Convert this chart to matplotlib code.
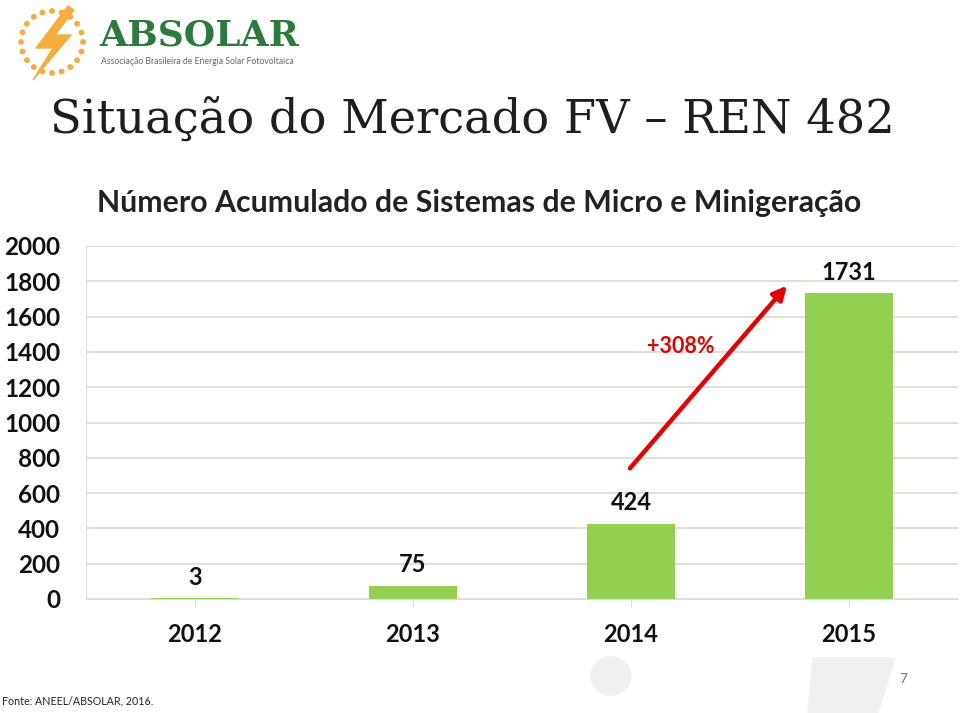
import matplotlib.pyplot as plt
import numpy as np
from matplotlib.patches import Polygon, Ellipse, Circle

# Data
years = ["2012", "2013", "2014", "2015"]
systems = [3, 75, 424, 1731]
growth_label = "+308%"
y_ticks = [0, 200, 400, 600, 800, 1000, 1200, 1400, 1600, 1800, 2000]

W, H = 960, 713
fig = plt.figure(figsize=(W / 100, H / 100), dpi=100)

def fx(px):
    return px / W

def fy(py):
    return 1 - py / H

# Logo
logo = fig.add_axes([0, 0, 1, 1], zorder=0)
logo.set_xlim(0, W)
logo.set_ylim(H, 0)
logo.axis("off")
orange = "#F4AE3D"
for a in np.linspace(0, 2 * np.pi, 20, endpoint=False):
    logo.add_patch(Circle((52 + 31 * np.cos(a), 42 + 31 * np.sin(a)), 2.2, color=orange))
bolt = [(68, 6), (36, 48), (53, 48), (33, 80), (71, 35), (55, 35), (74, 10)]
logo.add_patch(Polygon(bolt, closed=True, color=orange))
logo.text(99, 35, "ABSOLAR", fontsize=26, family="DejaVu Serif", fontweight="bold",
          color="#2C7A3C", va="center", ha="left")
logo.text(101, 62, "Associação Brasileira de Energia Solar Fotovoltaica", fontsize=6.2,
          family="Lato", color="#666666", va="center", ha="left")

# decorative shapes at bottom
logo.add_patch(Ellipse((611, 676), 40, 38, color="#f0f0f0", zorder=0))
logo.add_patch(Polygon([(813, 658), (895, 658), (878, 713), (808, 713)], closed=True,
                       color="#f0f0f0", zorder=0))

# Title
fig.text(fx(50), fy(121), "Situação do Mercado FV – REN 482", fontsize=33.4,
         family="DejaVu Serif", color="#1e1e1e", va="center", ha="left")

# Chart
ax = fig.add_axes([fx(86), fy(599), fx(958) - fx(86), (599 - 246) / H], zorder=1)
ax.patch.set_alpha(0)
x = np.arange(len(years))
ax.bar(x, systems, width=0.4, color="#92D050", zorder=2)
ax.set_xlim(-0.5, 3.5)
ax.set_ylim(0, 2000)
ax.set_yticks(y_ticks)
ax.set_xticks(x)
ax.set_xticklabels(years)
ax.grid(axis="y", color="#dcdcd0", linewidth=1.2, zorder=0)
for s in ["top", "right"]:
    ax.spines[s].set_visible(False)
ax.spines["left"].set_color("#dcdcd0")
ax.spines["bottom"].set_color("#dcdcd0")
ax.tick_params(axis="y", length=0, pad=18.5, labelsize=17.5)
ax.tick_params(axis="x", length=6, color="#dcdcd0", pad=11, labelsize=17)
for lab in ax.get_yticklabels() + ax.get_xticklabels():
    lab.set_family("Lato")
    lab.set_fontweight("bold")
    lab.set_color("#111111")

for xi, v in zip(x, systems):
    ax.annotate(str(v), (xi, v), xytext=(0, 7), textcoords="offset points",
                ha="center", va="bottom", fontsize=17, family="Lato", fontweight="bold",
                color="#111111")

fig.text(fx(97), fy(203), "Número Acumulado de Sistemas de Micro e Minigeração",
         fontsize=21.8, family="Lato", fontweight="bold", color="#222222",
         ha="left", va="center")

ax.annotate("", xy=(2.715, 1775), xytext=(1.995, 740),
            arrowprops=dict(arrowstyle="-|>,head_length=0.8,head_width=0.4",
                            color="#E60000", lw=3.2, shrinkA=0, shrinkB=0))
ax.text(2.23, 1430, growth_label, color="#E60000", fontsize=15.5, family="Lato",
        fontweight="bold", ha="center", va="center")

# Footer
fig.text(fx(2), fy(701), "Fonte: ANEEL/ABSOLAR, 2016.", fontsize=7.7, family="Lato",
         color="#222222", va="center", ha="left")
fig.text(fx(903), fy(679), "7", fontsize=10, family="Lato", color="#777777",
         va="center", ha="center")

fig.savefig("out.png", dpi=100)
